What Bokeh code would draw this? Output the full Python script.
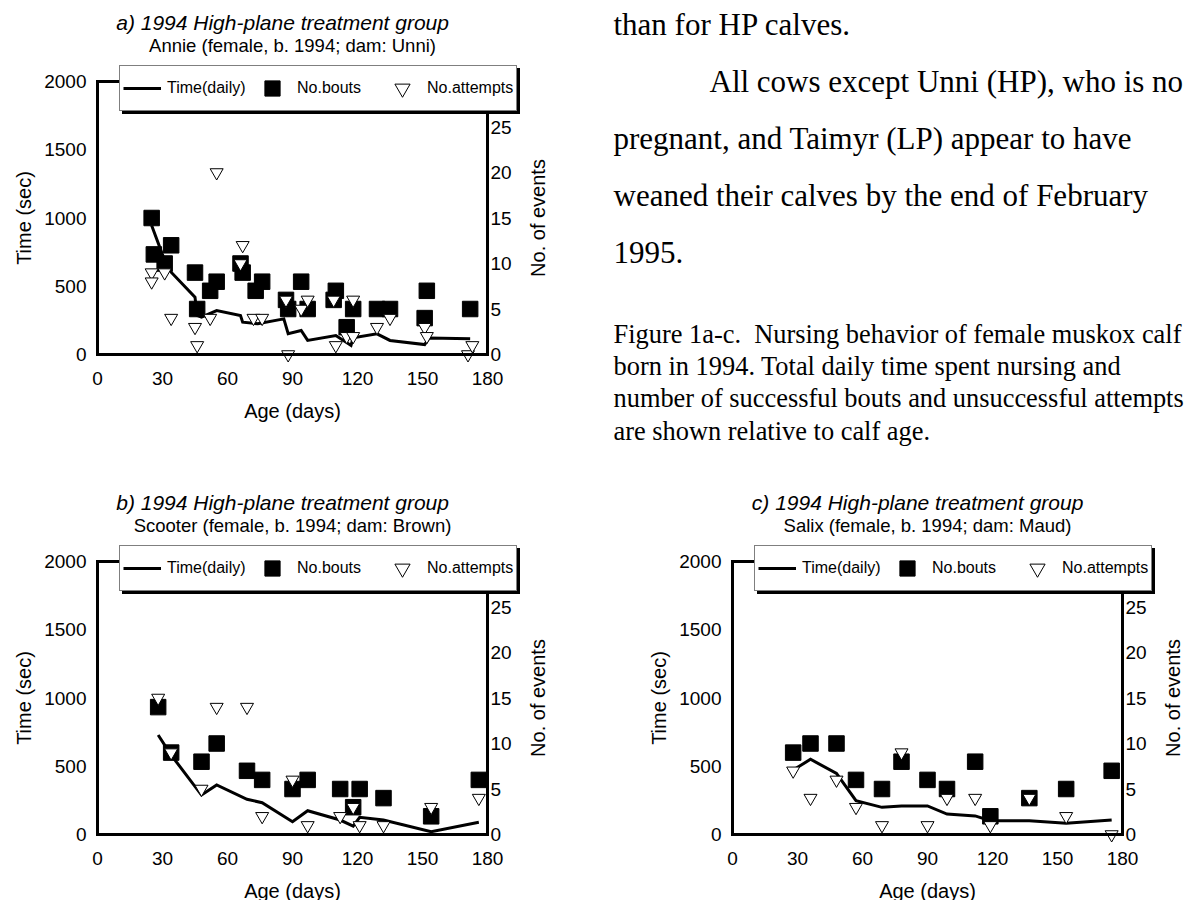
import math
from bokeh.plotting import figure
from bokeh.models import Range1d, LinearAxis, FixedTicker, Legend, LegendItem, Label
from bokeh.layouts import column, row
from bokeh.embed import file_html
from bokeh.resources import INLINE

SANS = "Liberation Sans"
SERIF = "Liberation Serif"

X_TICKS = [0, 30, 60, 90, 120, 150, 180]
Y_TICKS = [0, 500, 1000, 1500, 2000]
EV_TICKS = [0, 5, 10, 15, 20, 25]
X_MAX, T_MAX, EV_MAX = 180, 2000, 30

# ---- a) Annie ----
a_time_day = [25, 31, 34, 45, 46, 48, 55, 66, 67, 74, 86, 88, 94, 97, 110, 117, 118, 129, 135, 151, 153, 172]
a_time_sec = [945, 689, 603, 420, 286, 273, 322, 286, 237, 225, 261, 152, 176, 103, 139, 66, 122, 151, 103, 73, 120, 115]
a_bout_day = [25, 26, 31, 34, 45, 46, 52, 55, 66, 67, 73, 76, 87, 88, 94, 97, 109, 110, 115, 118, 129, 135, 151, 152, 172]
a_bouts = [15, 11, 10, 12, 9, 5, 7, 8, 10, 9, 7, 8, 6, 5, 8, 5, 6, 7, 3, 5, 5, 5, 4, 7, 5]
a_att_day = [25, 25, 31, 34, 45, 46, 52, 55, 66, 67, 72, 76, 87, 88, 94, 97, 109, 110, 115, 118, 118, 129, 135, 151, 152, 171, 173]
a_attempts = [9, 8, 9, 4, 3, 1, 4, 20, 10, 12, 4, 4, 6, 0, 5, 6, 6, 1, 2, 6, 2, 3, 4, 3, 2, 0, 1]

# ---- b) Scooter ----
b_day = [28, 34, 48, 55, 69, 76, 90, 97, 112, 118, 121, 132, 154, 176]
b_time_sec = [729, 582, 289, 363, 258, 233, 94, 174, 106, 62, 126, 106, 21, 90]
b_bouts = [14, 9, 8, 10, 7, 6, 5, 6, 5, 3, 5, 4, 2, 6]
b_attempts = [15, 9, 5, 14, 14, 2, 6, 1, 2, 3, 1, 1, 3, 4]

# ---- c) Salix ----
c_day = [28, 36, 48, 57, 69, 78, 90, 99, 112, 119, 137, 154, 175]
c_time_sec = [472, 551, 448, 248, 199, 209, 209, 150, 136, 101, 101, 82, 106]
c_bouts = [9, 10, 10, 6, 5, 8, 6, 5, 8, 2, 4, 5, 7]
c_attempts = [7, 4, 6, 3, 1, 9, 1, 4, 4, 1, 4, 2, 0]

TITLES = ["a)  1994 High-plane treatment group",
          "b)  1994 High-plane treatment group",
          "c)  1994 High-plane treatment group"]
SUBTITLES = ["Annie (female, b. 1994; dam: Unni)",
             "Scooter (female, b. 1994; dam: Brown)",
             "Salix (female, b. 1994; dam: Maud)"]
LEGEND_LABELS = ["Time(daily)", "No.bouts", "No.attempts"]

BODY_LINES = ["than for HP calves.",
              "All cows except Unni (HP), who is no",
              "pregnant, and Taimyr (LP) appear to have",
              "weaned their calves by the end of February",
              "1995."]
CAPTION_LINES = ["Figure 1a-c.\u00a0 Nursing behavior of female muskox calf",
                 "born in 1994. Total daily time spent nursing and",
                 "number of successful bouts and unsuccessful attempts",
                 "are shown relative to calf age."]

FW, FH = 390, 273  # pixel size of the plotting box


def style_axis(ax, standoff=10, size="19px"):
    ax.axis_line_width = 3
    ax.axis_line_color = "black"
    ax.axis_line_cap = "square"
    ax.major_tick_line_color = None
    ax.minor_tick_line_color = None
    ax.major_tick_out = 0
    ax.major_tick_in = 0
    ax.major_label_text_font = SANS
    ax.major_label_text_font_size = size
    ax.major_label_text_color = "black"
    ax.major_label_standoff = standoff


def chart(width, height, left, top, title, subtitle, td, tv, bd, bv, ad, av):
    bottom = height - top - FH
    xs = X_MAX / FW
    ys = T_MAX / FH
    es = EV_MAX / FH
    p = figure(width=width, height=height,
               x_range=Range1d(-left * xs, (width - left) * xs),
               y_range=Range1d(-bottom * ys, T_MAX + top * ys),
               output_backend="svg", toolbar_location=None,
               x_axis_location=None, y_axis_location=None, min_border=0,
               background_fill_color="white", border_fill_color="white",
               outline_line_color=None)
    p.extra_y_ranges = {"ev": Range1d(-bottom * es, EV_MAX + top * es)}
    p.grid.visible = False

    bax = LinearAxis(ticker=FixedTicker(ticks=X_TICKS), fixed_location=0, bounds=(0, X_MAX))
    style_axis(bax, standoff=17)
    p.add_layout(bax, "below")
    lax = LinearAxis(ticker=FixedTicker(ticks=Y_TICKS), fixed_location=0, bounds=(0, T_MAX))
    style_axis(lax, standoff=11)
    p.add_layout(lax, "left")
    rax = LinearAxis(y_range_name="ev", ticker=FixedTicker(ticks=EV_TICKS),
                     fixed_location=X_MAX, bounds=(0, EV_MAX))
    style_axis(rax, standoff=3)
    p.add_layout(rax, "right")
    tax = LinearAxis(ticker=FixedTicker(ticks=[]), fixed_location=T_MAX, bounds=(0, X_MAX))
    style_axis(tax)
    p.add_layout(tax, "above")

    ln = p.line(td, tv, line_color="black", line_width=3, line_join="miter")
    sq = p.scatter(bd, bv, y_range_name="ev", marker="square", size=15.5,
                   fill_color="black", line_color="black")
    tr = p.scatter(ad, av, y_range_name="ev", marker="inverted_triangle", size=13,
                   fill_color="white", line_color="black", line_width=1)
    ghost = p.scatter(x=[], y=[], marker="square", size=1, fill_alpha=0, line_alpha=0)

    # legend box: 22 px right of the left axis, its top 14 px above the plotting box
    lx = left + 22
    ly = bottom + FH + 14 - 44
    common = dict(orientation="horizontal", glyph_width=38, glyph_height=38,
                  padding=3, margin=0, label_text_font=SANS, label_text_font_size="16px",
                  label_height=20)
    shadow = Legend(items=[LegendItem(label=" ", renderers=[ghost])],
                    location=(lx + 3, ly - 3), background_fill_color="black", background_fill_alpha=1.0,
                    border_line_color="black", border_line_width=1.5,
                    label_standoff=0, label_width=352, label_text_color="black", **common)
    p.add_layout(shadow)
    legend = Legend(items=[LegendItem(label=LEGEND_LABELS[0], renderers=[ln]),
                           LegendItem(label=LEGEND_LABELS[1], renderers=[sq]),
                           LegendItem(label=LEGEND_LABELS[2], renderers=[tr])],
                    location=(lx, ly), background_fill_color="white", background_fill_alpha=1.0,
                    border_line_color="black", border_line_width=1.5,
                    label_standoff=6, spacing=6, label_width=80, label_text_color="black", **common)
    p.add_layout(legend)

    p.add_layout(Label(x=0, y=T_MAX, x_offset=188, y_offset=59, text=title, text_font=SANS,
                       text_font_size="21px", text_font_style="italic", text_align="center",
                       text_baseline="middle", text_color="black"))
    p.add_layout(Label(x=0, y=T_MAX, x_offset=195, y_offset=36, text=subtitle, text_font=SANS,
                       text_font_size="18.5px", text_align="center", text_baseline="middle",
                       text_color="black"))
    p.add_layout(Label(x=X_MAX / 2, y=0, y_offset=-56, text="Age (days)", text_font=SANS,
                       text_font_size="20px", text_align="center", text_baseline="middle",
                       text_color="black"))
    p.add_layout(Label(x=0, y=T_MAX / 2, x_offset=-74, text="Time (sec)", text_font=SANS,
                       text_font_size="20px", text_align="center", text_baseline="middle",
                       angle=math.pi / 2, text_color="black"))
    p.add_layout(Label(x=X_MAX, y=T_MAX / 2, x_offset=50, text="No. of events", text_font=SANS,
                       text_font_size="20px", text_align="center", text_baseline="middle",
                       angle=math.pi / 2, text_color="black"))
    return p


fa = chart(560, 460, 97, 81, TITLES[0], SUBTITLES[0],
           a_time_day, a_time_sec, a_bout_day, a_bouts, a_att_day, a_attempts)
fb = chart(620, 440, 97, 101, TITLES[1], SUBTITLES[1],
           b_day, b_time_sec, b_day, b_bouts, b_day, b_attempts)
fc = chart(565, 440, 112, 101, TITLES[2], SUBTITLES[2],
           c_day, c_time_sec, c_day, c_bouts, c_day, c_attempts)

ft = figure(width=625, height=460, x_range=Range1d(0, 625), y_range=Range1d(460, 0),
            output_backend="svg", toolbar_location=None,
            x_axis_location=None, y_axis_location=None, min_border=0,
            outline_line_color=None, background_fill_color="white", border_fill_color="white")
ft.grid.visible = False
body_x = [53, 149, 53, 53, 53]
body_y = [23.5, 80.5, 137.5, 194.5, 251.5]
for t, x, y in zip(BODY_LINES, body_x, body_y):
    ft.add_layout(Label(x=x, y=y, text=t, text_font=SERIF, text_font_size="31px",
                        text_align="left", text_baseline="alphabetic", text_color="black"))
cap_y = [333, 365.3, 397.6, 430]
for t, y in zip(CAPTION_LINES, cap_y):
    ft.add_layout(Label(x=53, y=y, text=t, text_font=SERIF, text_font_size="26.4px",
                        text_align="left", text_baseline="alphabetic", text_color="black"))

layout = column(row(fa, ft), row(fb, fc))
open("out.html", "w").write(file_html(layout, INLINE))
